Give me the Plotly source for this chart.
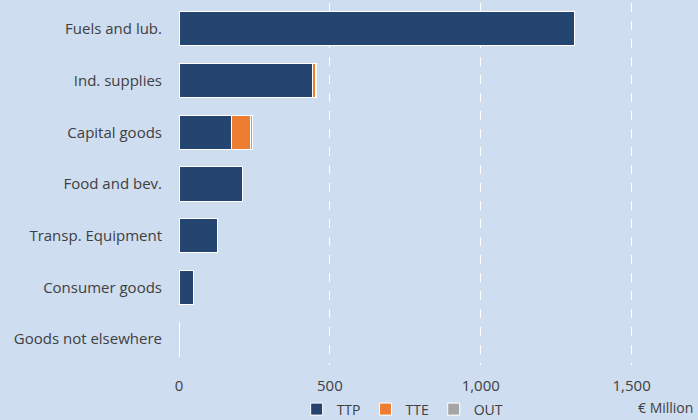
import plotly.graph_objects as go

categories = ["Fuels and lub.", "Ind. supplies", "Capital goods", "Food and bev.",
              "Transp. Equipment", "Consumer goods", "Goods not elsewhere"]
ttp = [1310, 443, 174, 209, 126, 49, 2]
tte = [0, 8, 64, 0, 0, 0, 0]
out = [0, 6, 5, 0, 0, 0, 0]
x_ticks = [0, 500, 1000, 1500]
x_tick_labels = ["0", "500", "1,000", "1,500"]

BG = "#CEDDF0"
FONT = "Open Sans"
TXT = "#404040"

fig = go.Figure()
for name, vals, col in [("TTP", ttp, "#244570"), ("TTE", tte, "#ED7D31"), ("OUT", out, "#A5A5A5")]:
    fig.add_trace(go.Bar(
        y=categories, x=vals, name=name, orientation="h",
        marker=dict(color=col, line=dict(color="white", width=1)),
    ))

fig.update_layout(
    width=698, height=420,
    barmode="stack", bargap=0.34,
    paper_bgcolor=BG, plot_bgcolor=BG,
    margin=dict(l=179, r=0, t=3, b=55, autoexpand=False),
    font=dict(family=FONT, size=15, color=TXT),
    showlegend=True,
    legend=dict(orientation="h", xref="container", yref="container",
                x=0.425, y=0.025, xanchor="left", yanchor="middle",
                font=dict(size=14, color=TXT), traceorder="normal",
                itemwidth=30, bgcolor="rgba(0,0,0,0)"),
    annotations=[dict(text="€ Million", xref="paper", yref="paper", x=1.0, y=-0.118,
                      xanchor="right", yanchor="middle", showarrow=False, xshift=-3,
                      font=dict(size=14, color=TXT))],
)
fig.update_xaxes(range=[0, 1720], tickvals=x_ticks, ticktext=x_tick_labels,
                 showgrid=True, gridcolor="white", griddash="dash", gridwidth=1,
                 zeroline=False, showline=False, ticks="", ticklabelstandoff=10,
                 tickfont=dict(size=15, color=TXT))
fig.update_yaxes(categoryorder="array", categoryarray=categories, autorange="reversed",
                 showgrid=False, zeroline=False, showline=False, ticks="",
                 ticklabelstandoff=16, tickfont=dict(size=15, color=TXT))

fig.write_html("out.html", config={"displayModeBar": False},
               post_script="document.body.style.margin='0';document.body.style.padding='0';document.body.style.overflow='hidden';")
